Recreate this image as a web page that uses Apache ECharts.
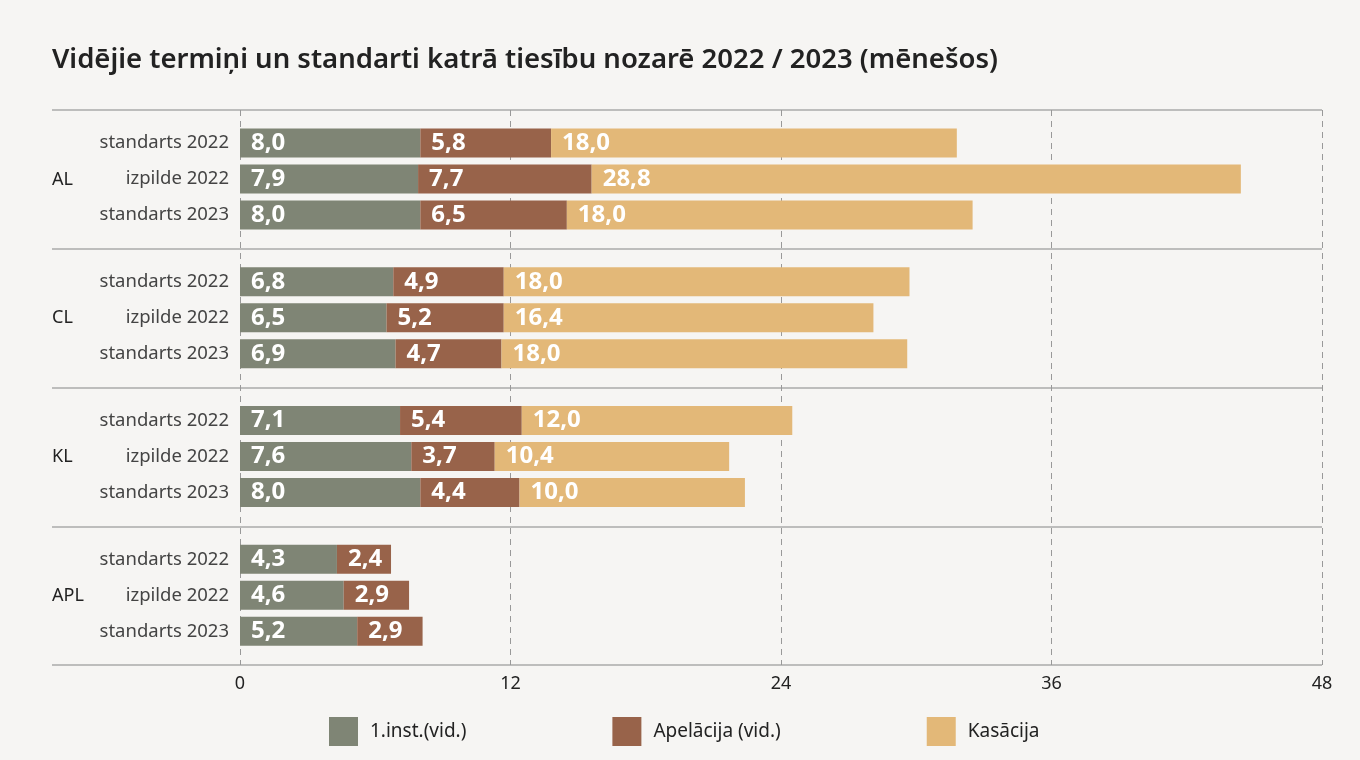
<!DOCTYPE html>
<html>
<head>
<meta charset="utf-8">
<script src="https://cdn.jsdelivr.net/npm/echarts@6/dist/echarts.min.js"></script>
<style>
  html, body { margin: 0; padding: 0; background: #f6f5f3; }
  #main { width: 1360px; height: 760px; }
</style>
</head>
<body>
<div id="main"></div>
<script>
// dati
var groups = ['AL', 'CL', 'KL', 'APL'];
var rows = ['standarts 2022', 'izpilde 2022', 'standarts 2023'];
var seriesNames = ['1.inst.(vid.)', 'Apelācija (vid.)', 'Kasācija'];
var xTicks = [0, 12, 24, 36, 48];

var inst1 = [
  [8.0, 7.9, 8.0],
  [6.8, 6.5, 6.9],
  [7.1, 7.6, 8.0],
  [4.3, 4.6, 5.2]
];
var apelacija = [
  [5.8, 7.7, 6.5],
  [4.9, 5.2, 4.7],
  [5.4, 3.7, 4.4],
  [2.4, 2.9, 2.9]
];
var kasacija = [
  [18.0, 28.8, 18.0],
  [18.0, 16.4, 18.0],
  [12.0, 10.4, 10.0],
  [null, null, null]
];

var colors = ['#7f8575', '#98634a', '#e3b878'];
var fontFam = '"Noto Sans", sans-serif';

var chart = echarts.init(document.getElementById('main'));

var plotTop = 110, plotH = 555, left = 240, right = 38;
var bandH = plotH / groups.length;

var grids = [
  // grupu nosaukumi un atdalītājlīnijas
  { left: 52, right: right, top: plotTop, height: plotH },
  // galvenā x ass
  { left: left, right: right, top: plotTop, height: plotH }
];
var xAxes = [
  { gridIndex: 0, type: 'value', show: false, min: 0, max: 48 },
  {
    gridIndex: 1, type: 'value', min: xTicks[0], max: xTicks[xTicks.length - 1], interval: 12,
    axisLine: { show: false },
    axisTick: { show: false },
    axisLabel: { color: '#222', fontSize: 18, fontFamily: fontFam, margin: 10 },
    splitLine: { show: true, lineStyle: { type: [6, 5], color: '#999', width: 1 } }
  }
];
var yAxes = [
  {
    gridIndex: 0, type: 'category', data: groups, inverse: true,
    axisLine: { show: false }, axisTick: { show: false },
    axisLabel: { inside: true, margin: 0, color: '#222', fontSize: 18, fontFamily: fontFam },
    splitLine: { show: true, lineStyle: { color: '#aaa', width: 1.5 } }
  },
  { gridIndex: 1, type: 'category', data: groups, show: false }
];

var series = [];
groups.forEach(function (g, i) {
  var gi = i + 2;
  grids.push({ left: left, right: right, top: plotTop + bandH * i + 15, height: 108 });
  xAxes.push({ gridIndex: gi, type: 'value', min: 0, max: 48, show: false });
  yAxes.push({
    gridIndex: gi, type: 'category', data: rows, inverse: true,
    axisLine: { show: false }, axisTick: { show: false },
    axisLabel: { color: '#444', fontSize: 18.5, fontFamily: fontFam, margin: 11 }
  });
  [inst1[i], apelacija[i], kasacija[i]].forEach(function (vals, s) {
    series.push({
      name: seriesNames[s],
      type: 'bar',
      stack: 'g' + i,
      xAxisIndex: gi,
      yAxisIndex: gi,
      barWidth: 29,
      itemStyle: { color: colors[s] },
      label: {
        show: true,
        position: 'insideLeft',
        distance: 11,
        color: '#fff',
        fontSize: 24,
        fontWeight: 'bold',
        fontFamily: fontFam,
        formatter: function (p) {
          return p.value == null ? '' : p.value.toFixed(1).replace('.', ',');
        }
      },
      data: vals
    });
  });
});

var option = {
  backgroundColor: '#f6f5f3',
  color: colors,
  title: {
    text: 'Vidējie termiņi un standarti katrā tiesību nozarē 2022 / 2023 (mēnešos)',
    left: 47,
    top: 41,
    textStyle: { fontSize: 27.5, fontWeight: 600, color: '#222', fontFamily: fontFam }
  },
  legend: {
    data: seriesNames,
    bottom: 9,
    left: 324,
    itemWidth: 29,
    itemHeight: 29,
    itemGap: 146,
    icon: 'rect',
    textStyle: { fontSize: 19, color: '#222', fontFamily: fontFam, padding: [0, 0, 0, 7] }
  },
  grid: grids,
  xAxis: xAxes,
  yAxis: yAxes,
  series: series
};

chart.setOption(option);
</script>
</body>
</html>
